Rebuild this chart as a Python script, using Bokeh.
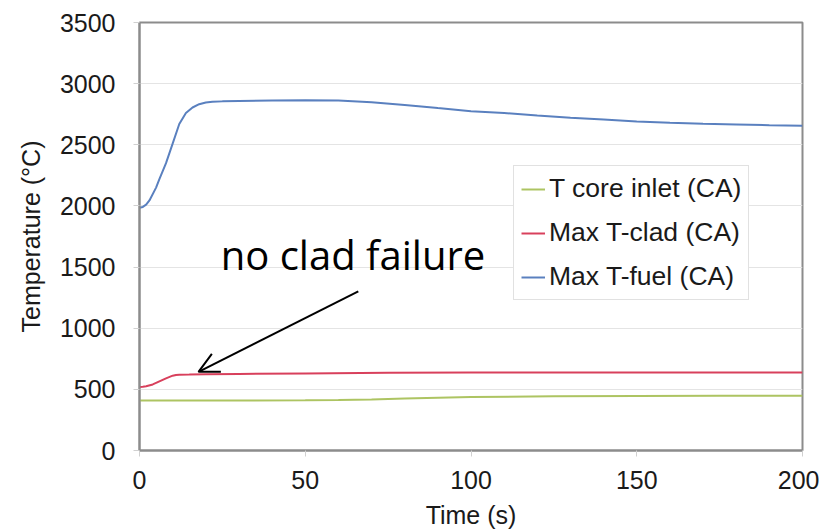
from bokeh.plotting import figure
from bokeh.models import Range1d, FixedTicker, Legend, LegendItem, Label, Arrow, OpenHead
from bokeh.embed import file_html
from bokeh.resources import INLINE

# ---- data ----
t_fuel = [0, 1, 2, 3, 5, 6, 8, 10, 12, 14, 16, 18, 20, 22, 25, 30, 40, 50, 60, 70, 80,
          90, 100, 110, 120, 130, 140, 150, 160, 170, 180, 190, 200]
T_fuel = [1985, 1992, 2010, 2045, 2150, 2220, 2350, 2510, 2670, 2760, 2805, 2832, 2845,
          2851, 2855, 2858, 2862, 2865, 2862, 2848, 2826, 2800, 2775, 2760, 2740, 2722,
          2706, 2690, 2680, 2672, 2666, 2660, 2655]

t_clad = [0, 1, 2, 4, 6, 8, 10, 11, 12, 15, 20, 30, 50, 75, 100, 125, 150, 175, 200]
T_clad = [520, 521, 526, 540, 565, 590, 612, 618, 620, 621, 624, 626, 630, 635, 637, 638,
          638, 638, 638]

t_inlet = [0, 25, 50, 60, 70, 80, 90, 100, 125, 150, 175, 200]
T_inlet = [408, 408, 410, 413, 418, 425, 432, 438, 443, 446, 447, 447]

series_names = ["T core inlet (CA)", "Max T-clad (CA)", "Max T-fuel (CA)"]
x_ticks = [0, 50, 100, 150, 200]
y_ticks = [0, 500, 1000, 1500, 2000, 2500, 3000, 3500]
annotation_text = "no clad failure"

FONT = "Liberation Sans"

p = figure(width=819, height=531, output_backend="svg", toolbar_location=None,
           x_range=Range1d(0, 200), y_range=Range1d(0, 3500),
           min_border_left=139, min_border_right=17, min_border_top=22, min_border_bottom=79)
p.background_fill_color = "white"
p.border_fill_color = "white"
p.outline_line_color = "#8c8c8c"
p.outline_line_width = 2

p.xgrid.grid_line_color = None
p.ygrid.grid_line_color = "#e4e4e4"
p.ygrid.grid_line_width = 1

for ax in (p.xaxis[0], p.yaxis[0]):
    ax.axis_line_color = "#8c8c8c"
    ax.axis_line_width = 2
    ax.major_tick_line_color = "#d0d0d0"
    ax.major_tick_out = 6
    ax.major_tick_in = 0
    ax.minor_tick_line_color = None
    ax.major_label_text_font = FONT
    ax.major_label_text_font_size = "25px"
    ax.major_label_text_color = "#1a1a1a"
    ax.axis_label_text_font = FONT
    ax.axis_label_text_font_size = "25px"
    ax.axis_label_text_font_style = "normal"
    ax.axis_label_text_color = "#1a1a1a"

p.xaxis.ticker = FixedTicker(ticks=x_ticks)
p.yaxis.ticker = FixedTicker(ticks=y_ticks)
p.xaxis.axis_label = "Time (s)"
p.yaxis.axis_label = "Temperature (°C)"
p.xaxis.major_label_standoff = 14
p.yaxis.major_label_standoff = 18
p.xaxis.axis_label_standoff = 9
p.yaxis.axis_label_standoff = 12

r_inlet = p.line(t_inlet, T_inlet, line_color="#adc462", line_width=2)
r_clad = p.line(t_clad, T_clad, line_color="#d8405c", line_width=2)
r_fuel = p.line(t_fuel, T_fuel, line_color="#5a80bf", line_width=2)

legend = Legend(items=[LegendItem(label=series_names[0], renderers=[r_inlet]),
                       LegendItem(label=series_names[1], renderers=[r_clad]),
                       LegendItem(label=series_names[2], renderers=[r_fuel])],
                location=(374, 150))
legend.label_text_font = FONT
legend.label_text_font_size = "26.5px"
legend.label_text_color = "#1a1a1a"
legend.glyph_width = 24
legend.glyph_height = 20
legend.label_standoff = 4
legend.spacing = 13
legend.padding = 7
legend.margin = 0
legend.border_line_color = "#c4c4c4"
legend.border_line_width = 1.5
legend.background_fill_alpha = 1
p.add_layout(legend)

p.add_layout(Label(x=24.5, y=1600, text=annotation_text, text_font="Open Sans",
                   text_font_size="40px", text_color="black", text_baseline="alphabetic"))
p.add_layout(Arrow(x_start=66, y_start=1302, x_end=17.8, y_end=643,
                   line_color="black", line_width=2,
                   end=OpenHead(size=20, line_color="black", line_width=2)))

open("out.html", "w").write(file_html(p, INLINE))
